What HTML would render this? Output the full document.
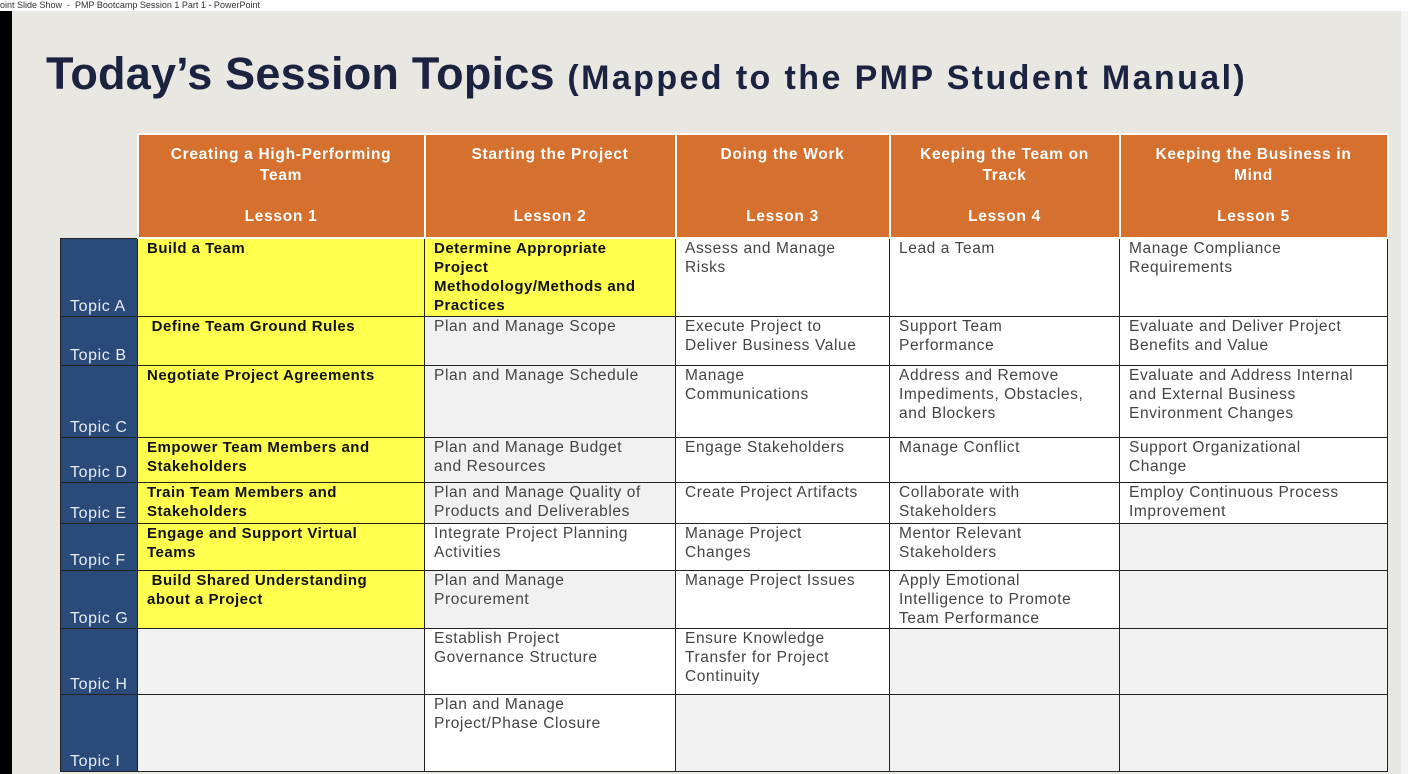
<!DOCTYPE html>
<html><head><meta charset="utf-8"><style>
*{margin:0;padding:0;box-sizing:border-box}
body{width:1408px;height:774px;overflow:hidden;background:#e9e7e1;font-family:"Liberation Sans",sans-serif;position:relative}
#topbar{position:absolute;left:0;top:0;width:1408px;height:11px;background:#fff;font-size:9px;color:#333;line-height:10px;white-space:nowrap;overflow:hidden}
#leftbar{position:absolute;left:0;top:11px;width:12px;height:763px;background:#000}
#rightbar{position:absolute;left:1401px;top:11px;width:7px;height:763px;background:#f3f3f3}
h1{position:absolute;left:46px;top:48px;font-size:45px;color:#1b2340;font-weight:bold;white-space:nowrap;letter-spacing:0.2px}
h1 span{font-size:34px;letter-spacing:2.4px}
table{position:absolute;left:60px;top:133px;border-collapse:collapse;table-layout:fixed}
td{border:1.5px solid #222;vertical-align:top;font-size:15.5px;color:#444;padding:0 9px;line-height:19px;white-space:nowrap;letter-spacing:0.6px;overflow:hidden}
td.h{background:#d5702f;color:#fff;font-weight:bold;text-align:center;border:2px solid #fff;padding-top:10px;line-height:20.5px;letter-spacing:0.7px}
td.blank{border:none;background:transparent}
td.t{background:#2a4a7a;color:#e8ecf3;vertical-align:bottom;padding:0 0 0 9px;font-size:16px;line-height:18px}
td.y{background:#ffff4d;color:#111;font-weight:bold;font-size:15px;letter-spacing:0.5px}
td.w{background:#fff}
td.g{background:#f1f1f1}
</style></head><body>
<div id="topbar">oint Slide Show &nbsp;-&nbsp; PMP Bootcamp Session 1 Part 1 - PowerPoint</div>
<div id="leftbar"></div>
<div id="rightbar"></div>
<h1>Today’s Session Topics <span>(Mapped to the PMP Student Manual)</span></h1>
<table>
<colgroup><col style="width:77px"><col style="width:287px"><col style="width:251px"><col style="width:214px"><col style="width:230px"><col style="width:268px"></colgroup>
<tr style="height:104px">
<td class="blank"></td>
<td class="h">Creating a High-Performing<br>Team<br><br>Lesson 1</td>
<td class="h">Starting the Project<br><br><br>Lesson 2</td>
<td class="h">Doing the Work<br><br><br>Lesson 3</td>
<td class="h">Keeping the Team on<br>Track<br><br>Lesson 4</td>
<td class="h">Keeping the Business in<br>Mind<br><br>Lesson 5</td>
</tr>
<tr style="height:78px"><td class="t">Topic A</td><td class="y">Build a Team</td><td class="y">Determine Appropriate<br>Project<br>Methodology/Methods and<br>Practices</td><td class="w">Assess and Manage<br>Risks</td><td class="w">Lead a Team</td><td class="w">Manage Compliance<br>Requirements</td></tr>
<tr style="height:49px"><td class="t">Topic B</td><td class="y">&nbsp;Define Team Ground Rules</td><td class="g">Plan and Manage Scope</td><td class="w">Execute Project to<br>Deliver Business Value</td><td class="w">Support Team<br>Performance</td><td class="w">Evaluate and Deliver Project<br>Benefits and Value</td></tr>
<tr style="height:72px"><td class="t">Topic C</td><td class="y">Negotiate Project Agreements</td><td class="g">Plan and Manage Schedule</td><td class="w">Manage<br>Communications</td><td class="w">Address and Remove<br>Impediments, Obstacles,<br>and Blockers</td><td class="w">Evaluate and Address Internal<br>and External Business<br>Environment Changes</td></tr>
<tr style="height:45px"><td class="t">Topic D</td><td class="y">Empower Team Members and<br>Stakeholders</td><td class="g">Plan and Manage Budget<br>and Resources</td><td class="w">Engage Stakeholders</td><td class="w">Manage Conflict</td><td class="w">Support Organizational<br>Change</td></tr>
<tr style="height:41px"><td class="t">Topic E</td><td class="y">Train Team Members and<br>Stakeholders</td><td class="g">Plan and Manage Quality of<br>Products and Deliverables</td><td class="w">Create Project Artifacts</td><td class="w">Collaborate with<br>Stakeholders</td><td class="w">Employ Continuous Process<br>Improvement</td></tr>
<tr style="height:47px"><td class="t">Topic F</td><td class="y">Engage and Support Virtual<br>Teams</td><td class="w">Integrate Project Planning<br>Activities</td><td class="w">Manage Project<br>Changes</td><td class="w">Mentor Relevant<br>Stakeholders</td><td class="g"></td></tr>
<tr style="height:58px"><td class="t">Topic G</td><td class="y">&nbsp;Build Shared Understanding<br>about a Project</td><td class="g">Plan and Manage<br>Procurement</td><td class="w">Manage Project Issues</td><td class="w">Apply Emotional<br>Intelligence to Promote<br>Team Performance</td><td class="g"></td></tr>
<tr style="height:66px"><td class="t">Topic H</td><td class="g"></td><td class="w">Establish Project<br>Governance Structure</td><td class="w">Ensure Knowledge<br>Transfer for Project<br>Continuity</td><td class="g"></td><td class="g"></td></tr>
<tr style="height:77px"><td class="t">Topic I</td><td class="g"></td><td class="w">Plan and Manage<br>Project/Phase Closure</td><td class="g"></td><td class="g"></td><td class="g"></td></tr>
</table>
</body></html>
